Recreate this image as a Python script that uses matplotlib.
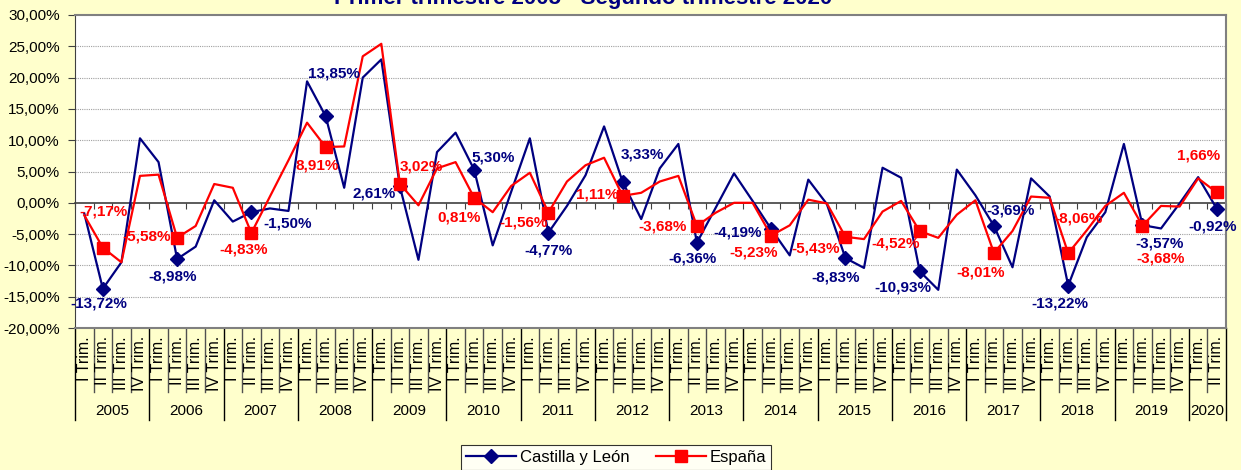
import matplotlib
matplotlib.use("Agg")
import matplotlib.pyplot as plt
import numpy as np

plt.rcParams["font.family"] = ["Liberation Sans", "DejaVu Sans"]

# quarterly year-on-year change, 2005 Q1 .. 2020 Q2
years = [str(y) for y in range(2005, 2021)]
quarters = ["I Trim.", "II Trim.", "III Trim.", "IV Trim."]
n_quarters_last = 2

castilla = [
    -1.7, -13.72, -9.5, 10.3, 6.5, -8.98, -7.0, 0.4, -3.0, -1.50,
    -0.9, -1.3, 19.4, 13.85, 2.4, 20.0, 22.9, 2.61, -9.1, 8.1,
    11.2, 5.30, -6.8, 1.8, 10.3, -4.77, -0.5, 4.4, 12.2, 3.33,
    -2.6, 5.5, 9.4, -6.36, -0.85, 4.7, 0.3, -4.19, -8.4, 3.7,
    -0.2, -8.83, -10.4, 5.6, 4.0, -10.93, -13.9, 5.3, 1.2, -3.69,
    -10.3, 3.9, 1.0, -13.22, -5.5, -1.5, 9.4, -3.57, -4.1, -0.1,
    4.1, -0.92,
]
espana = [
    -2.0, -7.17, -9.5, 4.3, 4.5, -5.58, -3.7, 3.0, 2.4, -4.83,
    1.0, 6.8, 12.8, 8.91, 9.0, 23.4, 25.4, 3.02, -0.4, 5.5,
    6.5, 0.81, -1.5, 2.7, 4.8, -1.56, 3.4, 6.0, 7.2, 1.11,
    1.6, 3.4, 4.3, -3.68, -1.6, 0.0, 0.0, -5.23, -3.6, 0.5,
    -0.1, -5.43, -5.8, -1.4, 0.3, -4.52, -5.6, -1.9, 0.4, -8.01,
    -4.5, 1.0, 0.8, -8.06, -4.4, -0.5, 1.6, -3.68, -0.5, -0.6,
    3.9, 1.66,
]

# label offsets (pixels) for the II Trim. markers
off_cyl = [(-4, -15), (-4, -17), (36, -11), (8, 43), (-26, -7), (19, 12), (0, -18), (20, 27),
           (-4, -16), (-34, -3), (-10, -19), (-17, -16), (17, 15), (-8, -18), (17, -18), (-4, -18)]
off_esp = [(1, 36), (-30, 1), (-8, -16), (-8, -18), (21, 17), (-15, -20), (-25, -10), (-25, 1),
           (-34, -1), (-18, -17), (-30, -12), (-24, -12), (-13, -20), (10, 35), (18, -33), (-18, 37)]

NAVY, RED = "#000080", "#FF0000"
BG = "#FFFFCC"

n = len(castilla)
x = np.arange(n) + 0.5
marked = list(range(1, n, 4))


def pct(v):
    return f"{v:.2f}".replace(".", ",") + "%"


fig = plt.figure(figsize=(12.41, 4.70), dpi=100, facecolor=BG)
W, H = 1241, 470
ax = fig.add_axes([75 / W, (H - 328) / H, (1226 - 75) / W, (328 - 15) / H])
ax.set_facecolor("white")

ax.set_xlim(0, n)
ax.set_ylim(-20, 30)
yt = np.arange(-20, 31, 5)
ax.set_yticks(yt)
ax.set_yticklabels([pct(v) for v in yt], fontsize=11)
ax.tick_params(axis="y", direction="out", length=5, color="#404040", pad=6)
ax.set_xticks([])
for v in yt[1:-1]:
    if v != 0:
        ax.axhline(v, color="#A0A0A0", lw=0.8, ls=(0, (1, 1)), zorder=0)
for s in ["top", "right", "bottom"]:
    ax.spines[s].set_color("#808080")
    ax.spines[s].set_linewidth(1.5)
ax.spines["left"].set_color("#404040")

# zero line with category ticks
sec = ax.secondary_xaxis(0.4)
sec.set_xticks(np.arange(0, n + 1))
sec.set_xticklabels([])
sec.tick_params(direction="out", length=4, color="#404040")
sec.spines["bottom"].set_color("#404040")
sec.spines["bottom"].set_linewidth(1.2)

ax.plot(x, castilla, color=NAVY, lw=1.6, marker="D", ms=7, markevery=marked,
        label="Castilla y León", zorder=3)
ax.plot(x, espana, color=RED, lw=1.6, marker="s", ms=8, markevery=marked,
        label="España", zorder=4)

for k, i in enumerate(marked):
    ax.annotate(pct(castilla[i]), (x[i], castilla[i]), xytext=off_cyl[k],
                textcoords="offset pixels", ha="center", va="center",
                fontsize=11, fontweight="bold", color=NAVY, zorder=5)
    ax.annotate(pct(espana[i]), (x[i], espana[i]), xytext=off_esp[k],
                textcoords="offset pixels", ha="center", va="center",
                fontsize=11, fontweight="bold", color=RED, zorder=5)

# two-level category axis
tr = ax.get_xaxis_transform()
ax_h = 328 - 15
q_bot = -(392 - 328) / ax_h
y_bot = -(420 - 328) / ax_h
q_lab = -(336 - 328) / ax_h
y_lab = -(411 - 328) / ax_h
for b in range(n + 1):
    is_year = b % 4 == 0 or b == n
    ax.plot([b, b], [0, y_bot if is_year else q_bot], transform=tr, clip_on=False,
            color="black" if is_year else "#505050", lw=1)
for i in range(n):
    ax.text(x[i], q_lab, quarters[i % 4], transform=tr, rotation=90, ha="center",
            va="top", fontsize=11.5)
for k, yr in enumerate(years):
    nq = n_quarters_last if k == len(years) - 1 else 4
    ax.text(4 * k + nq / 2, y_lab, yr, transform=tr, ha="center", va="center",
            fontsize=11)

fig.text(0.4698, (H - 4) / H, "Primer trimestre 2005 - Segundo trimestre 2020",
         ha="center", va="baseline", fontsize=16, fontweight="bold", color=NAVY)

leg = fig.legend(loc="upper center", bbox_to_anchor=(616 / W, (H - 445) / H), ncol=2,
                 fontsize=12, frameon=True, fancybox=False, edgecolor="black",
                 handlelength=3.0, columnspacing=1.6, borderpad=0.3, handletextpad=0.2,
                 borderaxespad=0)
leg.get_frame().set_linewidth(0.8)

fig.savefig("out.png", dpi=100, facecolor=BG)
